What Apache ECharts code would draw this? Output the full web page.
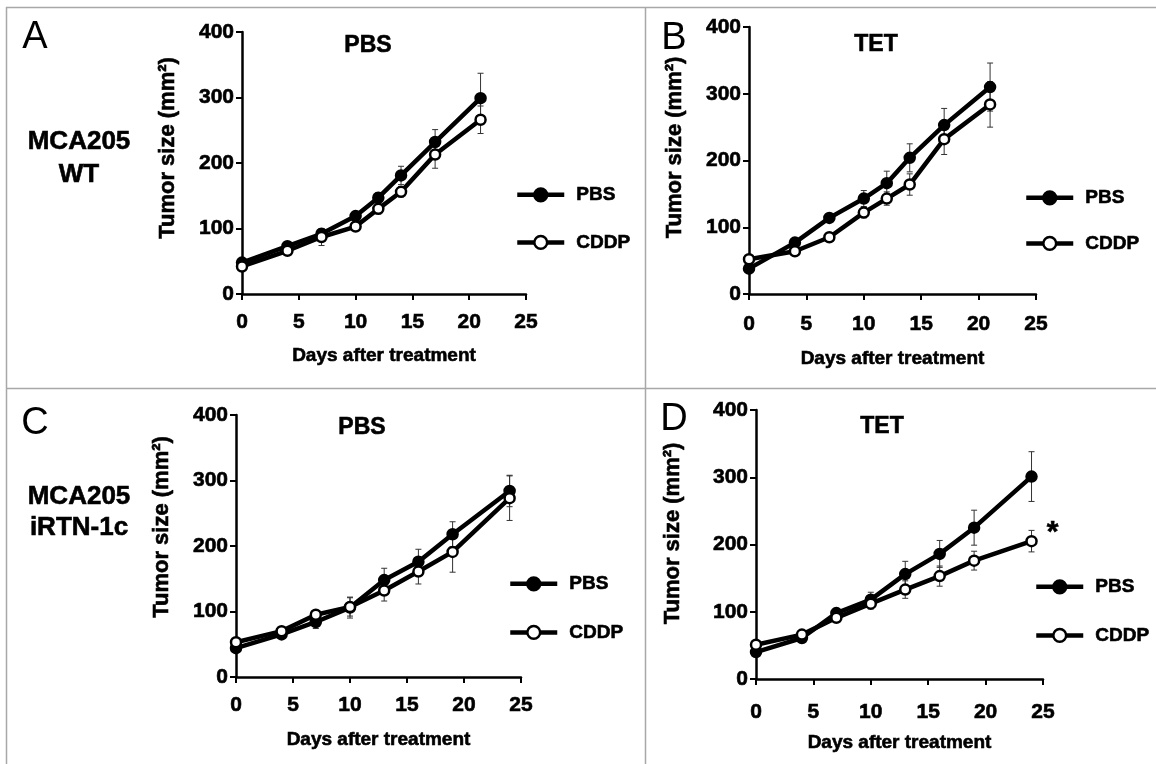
<!DOCTYPE html>
<html>
<head>
<meta charset="utf-8">
<script src="https://cdn.jsdelivr.net/npm/echarts@6/dist/echarts.min.js"></script>
<style>
  html, body { margin: 0; padding: 0; background: #fff; }
  #main { width: 1156px; height: 764px; }
</style>
</head>
<body>
<div id="main"></div>
<script>
// days of measurement
var daysWT = [0, 4, 7, 10, 12, 14, 17, 21];
var daysRTN = [0, 4, 7, 10, 13, 16, 19, 24];

// A: MCA205 WT, PBS
var aPBS = [48, 73, 92, 119, 147, 181, 232, 299];
var aPBSErr = [4, 5, 6, 7, 8, 14, 19, 38];
var aCDDP = [42, 66, 87, 103, 130, 156, 213, 266];
var aCDDPErr = [4, 5, 13, 6, 8, 8, 21, 21];
// B: MCA205 WT, TET
var bPBS = [38, 77, 114, 143, 166, 204, 253, 310];
var bPBSErr = [4, 5, 6, 12, 18, 21, 25, 36];
var bCDDP = [52, 64, 85, 122, 143, 164, 232, 284];
var bCDDPErr = [4, 4, 6, 8, 10, 16, 23, 34];
// C: MCA205 iRTN-1c, PBS
var cPBS = [44, 65, 84, 106, 148, 176, 218, 284];
var cPBSErr = [4, 5, 10, 16, 18, 19, 19, 24];
var cCDDP = [53, 70, 95, 107, 132, 161, 191, 273];
var cCDDPErr = [4, 5, 6, 14, 16, 19, 31, 34];
// D: MCA205 iRTN-1c, TET
var dPBS = [40, 61, 98, 118, 156, 186, 225, 301];
var dPBSErr = [4, 5, 6, 11, 19, 20, 26, 37];
var dCDDP = [51, 66, 91, 112, 133, 153, 176, 205];
var dCDDPErr = [4, 4, 5, 8, 13, 15, 14, 16];

var xTicks = { min: 0, max: 25, interval: 5 };
var yTicks = { min: 0, max: 400, interval: 100 };

var FONT = '"Liberation Sans", Arial, Helvetica, sans-serif';
// a thin outline makes the bold text look as heavy as in the scan
var HEAVY = { textBorderColor: '#000', textBorderWidth: 0.6 };

var panels = [
  { grid: { left: 242, top: 32, width: 284, height: 262 }, days: daysWT,
    pbs: aPBS, pbsErr: aPBSErr, cddp: aCDDP, cddpErr: aCDDPErr,
    xMargin: 18, xNameGap: 52, yNameGap: 63, yShift: 30,
    legend: { left: 515, top: 185, itemGap: 28 } },
  { grid: { left: 749, top: 27, width: 287, height: 267 }, days: daysWT,
    pbs: bPBS, pbsErr: bPBSErr, cddp: bCDDP, cddpErr: bCDDPErr,
    xMargin: 20, xNameGap: 55, yNameGap: 63, yShift: 26,
    legend: { left: 1024, top: 188, itemGap: 26 } },
  { grid: { left: 236, top: 415, width: 285, height: 262 }, days: daysRTN,
    pbs: cPBS, pbsErr: cPBSErr, cddp: cCDDP, cddpErr: cCDDPErr,
    xMargin: 18, xNameGap: 53, yNameGap: 63, yShift: 38,
    legend: { left: 508, top: 574, itemGap: 29 } },
  { grid: { left: 756, top: 410, width: 287, height: 269 }, days: daysRTN,
    pbs: dPBS, pbsErr: dPBSErr, cddp: dCDDP, cddpErr: dCDDPErr,
    xMargin: 23, xNameGap: 54, yNameGap: 72, yShift: 22,
    legend: { left: 1034, top: 577, itemGap: 29 }, star: true }
];

function errRender(params, api) {
  var x = api.value(0);
  var p1 = api.coord([x, api.value(1)]);
  var p2 = api.coord([x, api.value(2)]);
  var w = 3;
  var st = { stroke: '#333', lineWidth: 1 };
  return {
    type: 'group',
    children: [
      { type: 'line', shape: { x1: p1[0], y1: p1[1], x2: p2[0], y2: p2[1] }, style: st },
      { type: 'line', shape: { x1: p1[0] - w, y1: p1[1], x2: p1[0] + w, y2: p1[1] }, style: st },
      { type: 'line', shape: { x1: p2[0] - w, y1: p2[1], x2: p2[0] + w, y2: p2[1] }, style: st }
    ]
  };
}

function errData(days, v, e) {
  return days.map(function (d, k) { return [d, v[k] - e[k], v[k] + e[k]]; });
}

function boldText(size, extra) {
  return Object.assign({ color: '#000', fontSize: size, fontWeight: 'bold', fontFamily: FONT }, HEAVY, extra || {});
}

var grids = [], xAxes = [], yAxes = [], legends = [], series = [];

panels.forEach(function (p, i) {
  grids.push(Object.assign({ outerBoundsMode: 'none', containLabel: false }, p.grid));

  xAxes.push({
    gridIndex: i,
    type: 'value',
    min: xTicks.min, max: xTicks.max, interval: xTicks.interval,
    name: 'Days after treatment',
    nameLocation: 'middle',
    nameGap: p.xNameGap,
    nameTextStyle: boldText(19),
    axisLine: { show: true, onZero: false, lineStyle: { color: '#000', width: 2.5 } },
    axisTick: { show: true, length: 6, lineStyle: { color: '#000', width: 2 } },
    axisLabel: boldText(21, { margin: p.xMargin }),
    splitLine: { show: false }
  });

  yAxes.push({
    gridIndex: i,
    type: 'value',
    min: yTicks.min, max: yTicks.max, interval: yTicks.interval,
    name: 'Tumor size (mm²)',
    nameLocation: 'middle',
    nameGap: p.yNameGap,
    nameTextStyle: boldText(22, { padding: [0, 0, 0, p.yShift] }),
    axisLine: { show: true, onZero: false, lineStyle: { color: '#000', width: 2.5 } },
    axisTick: { show: true, length: 6, lineStyle: { color: '#000', width: 2 } },
    axisLabel: boldText(21, { margin: 8 }),
    splitLine: { show: false }
  });

  legends.push({
    data: ['PBS', 'CDDP'],
    orient: 'vertical',
    left: p.legend.left,
    top: p.legend.top,
    padding: 0,
    itemGap: p.legend.itemGap,
    itemWidth: 47,
    itemHeight: 16,
    selectedMode: false,
    lineStyle: { width: 4.5 },
    itemStyle: { borderWidth: 2.5 },
    textStyle: boldText(19, { padding: [0, 0, 0, 7] })
  });

  series.push({
    name: 'PBS error', type: 'custom', xAxisIndex: i, yAxisIndex: i, z: 1,
    renderItem: errRender, encode: { x: 0, y: [1, 2] },
    data: errData(p.days, p.pbs, p.pbsErr)
  });
  series.push({
    name: 'CDDP error', type: 'custom', xAxisIndex: i, yAxisIndex: i, z: 1,
    renderItem: errRender, encode: { x: 0, y: [1, 2] },
    data: errData(p.days, p.cddp, p.cddpErr)
  });

  series.push({
    name: 'PBS', type: 'line', xAxisIndex: i, yAxisIndex: i, z: 3,
    symbol: 'circle', symbolSize: 10, showSymbol: true, showAllSymbol: true,
    lineStyle: { color: '#000', width: 4.5 },
    itemStyle: { color: '#000', borderColor: '#000', borderWidth: 2.5 },
    data: p.days.map(function (d, k) { return [d, p.pbs[k]]; })
  });

  var cddpData = p.days.map(function (d, k) { return [d, p.cddp[k]]; });
  if (p.star) {
    var last = cddpData.length - 1;
    cddpData[last] = {
      value: cddpData[last],
      label: Object.assign({ show: true, formatter: '*', position: 'right', distance: 6, offset: [3, -8] },
        boldText(30))
    };
  }
  series.push({
    name: 'CDDP', type: 'line', xAxisIndex: i, yAxisIndex: i, z: 4,
    symbol: 'circle', symbolSize: 10, showSymbol: true, showAllSymbol: true,
    lineStyle: { color: '#000', width: 4.5 },
    itemStyle: { color: '#fff', borderColor: '#000', borderWidth: 2.5 },
    data: cddpData
  });
});

function txt(s, x, y, size, weight) {
  var st = { text: s, fill: '#000', fontSize: size, fontWeight: weight, fontFamily: FONT,
    textAlign: 'center', verticalAlign: 'middle', textVerticalAlign: 'middle' };
  if (weight === 'bold') { st.stroke = '#000'; st.lineWidth = 0.6; }
  return { type: 'text', x: x, y: y, silent: true, style: st };
}
function rule(x1, y1, x2, y2) {
  return { type: 'line', silent: true, shape: { x1: x1, y1: y1, x2: x2, y2: y2 },
    style: { stroke: '#a8a8a8', lineWidth: 1.5 } };
}

var graphic = [
  rule(6.5, 7, 6.5, 764), rule(6, 7.5, 1156, 7.5),
  rule(645.5, 7, 645.5, 764), rule(6, 388.5, 1156, 388.5),
  txt('A', 35, 38, 38, 'normal'), txt('B', 674, 39, 38, 'normal'),
  txt('C', 35, 424, 38, 'normal'), txt('D', 674, 420, 38, 'normal'),
  txt('MCA205', 79, 142, 26, 'bold'), txt('WT', 79, 175, 26, 'bold'),
  txt('MCA205', 79, 497, 26, 'bold'), txt('iRTN-1c', 79, 528, 26, 'bold'),
  txt('PBS', 368, 46, 23, 'bold'), txt('TET', 876, 45, 23, 'bold'),
  txt('PBS', 362, 428, 23, 'bold'), txt('TET', 882, 427, 23, 'bold')
];

var chart = echarts.init(document.getElementById('main'), null, { renderer: 'canvas' });
chart.setOption({
  animation: false,
  backgroundColor: '#fff',
  textStyle: { fontFamily: FONT },
  grid: grids,
  xAxis: xAxes,
  yAxis: yAxes,
  legend: legends,
  graphic: graphic,
  series: series
});
</script>
</body>
</html>
